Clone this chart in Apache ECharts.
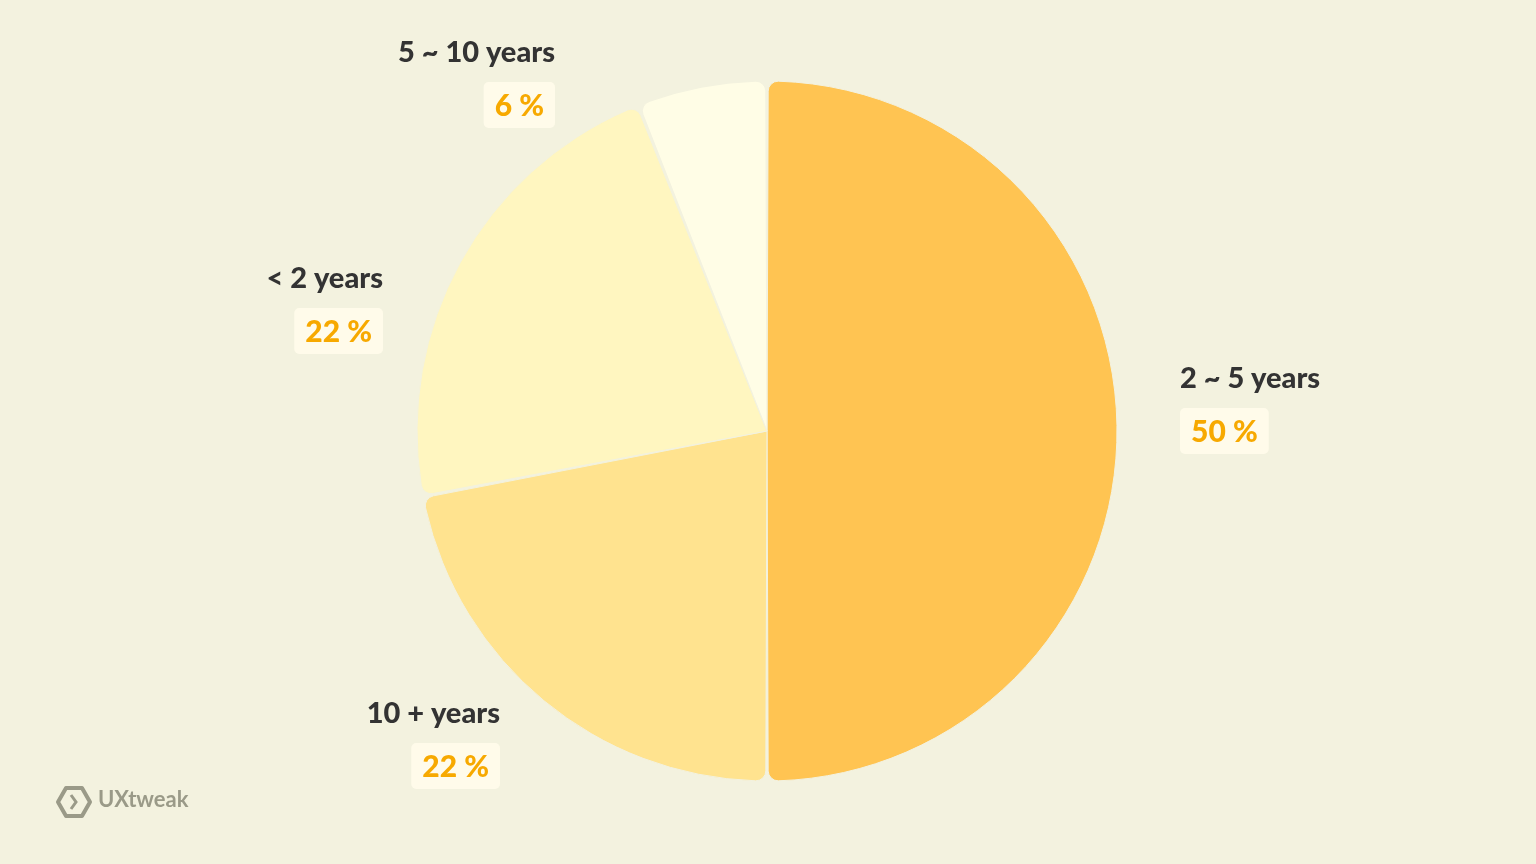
<!DOCTYPE html>
<html>
<head>
<meta charset="utf-8">
<script src="https://cdn.jsdelivr.net/npm/echarts@6/dist/echarts.min.js"></script>
<style>
  html, body { margin: 0; padding: 0; background: #F3F2DF; }
  #chart { width: 1536px; height: 864px; }
</style>
</head>
<body>
<div id="chart"></div>
<script>
// 資料
var Categories = ["2 ~ 5 years", "10 + years", "< 2 years", "5 ~ 10 years"];
var Percents = [50, 22, 22, 6];
var SliceColors = ["#FFC452", "#FFE38F", "#FFF6C0", "#FFFDE6"];
// 標籤位置 (x, y, 對齊)
var LabelPos = [
    [1180, 357, "left"],
    [500, 692, "right"],
    [383, 257, "right"],
    [555, 31, "right"]
];

var chart = echarts.init(document.getElementById("chart"));

var pieData = [];
for (let i = 0; i < Categories.length; i++) {
    pieData.push({
        name: Categories[i],
        value: Percents[i],
        itemStyle: { color: SliceColors[i] }
    });
}

option = {
    backgroundColor: "#F3F2DF",
    series: [{
        type: "pie",
        center: [767, 431],
        radius: [0, 350],
        startAngle: 90,
        clockwise: true,
        padAngle: 0.4,
        itemStyle: {
            borderRadius: 10,
            borderColor: "#F3F2DF",
            borderWidth: 1
        },
        label: {
            show: true,
            position: "outside",
            formatter: function (p) {
                return "{n|" + p.name + "}\n{g|}\n{p|" + p.value + " %}";
            },
            rich: {
                n: {
                    fontFamily: "Lato", fontWeight: 900, fontSize: 29,
                    color: "#333333", lineHeight: 44
                },
                g: { lineHeight: 14, fontSize: 4 },
                p: {
                    fontFamily: "Lato", fontWeight: 900, fontSize: 30,
                    color: "#F7A900", backgroundColor: "#FFFBEA",
                    padding: [9, 11, 7, 11], borderRadius: 5, lineHeight: 32
                }
            }
        },
        labelLine: { show: false },
        labelLayout: function (p) {
            let pos = LabelPos[p.dataIndex];
            return { x: pos[0], y: pos[1], align: pos[2], verticalAlign: "top" };
        },
        data: pieData
    }],
    graphic: [
        {
            type: "polygon",
            shape: { points: [[66, 788], [82, 788], [90, 802], [82, 816], [66, 816], [58, 802]] },
            style: { fill: "none", stroke: "#9A9A88", lineWidth: 4, lineJoin: "round" }
        },
        {
            type: "polyline",
            shape: { points: [[71, 795], [76, 802], [71, 809]] },
            style: { fill: "none", stroke: "#9A9A88", lineWidth: 3 }
        },
        {
            type: "text",
            left: 98, top: 789,
            style: {
                text: "UXtweak", fill: "#9A9A88",
                font: "bold 22px Lato"
            }
        }
    ]
};
chart.setOption(option);
</script>
</body>
</html>
